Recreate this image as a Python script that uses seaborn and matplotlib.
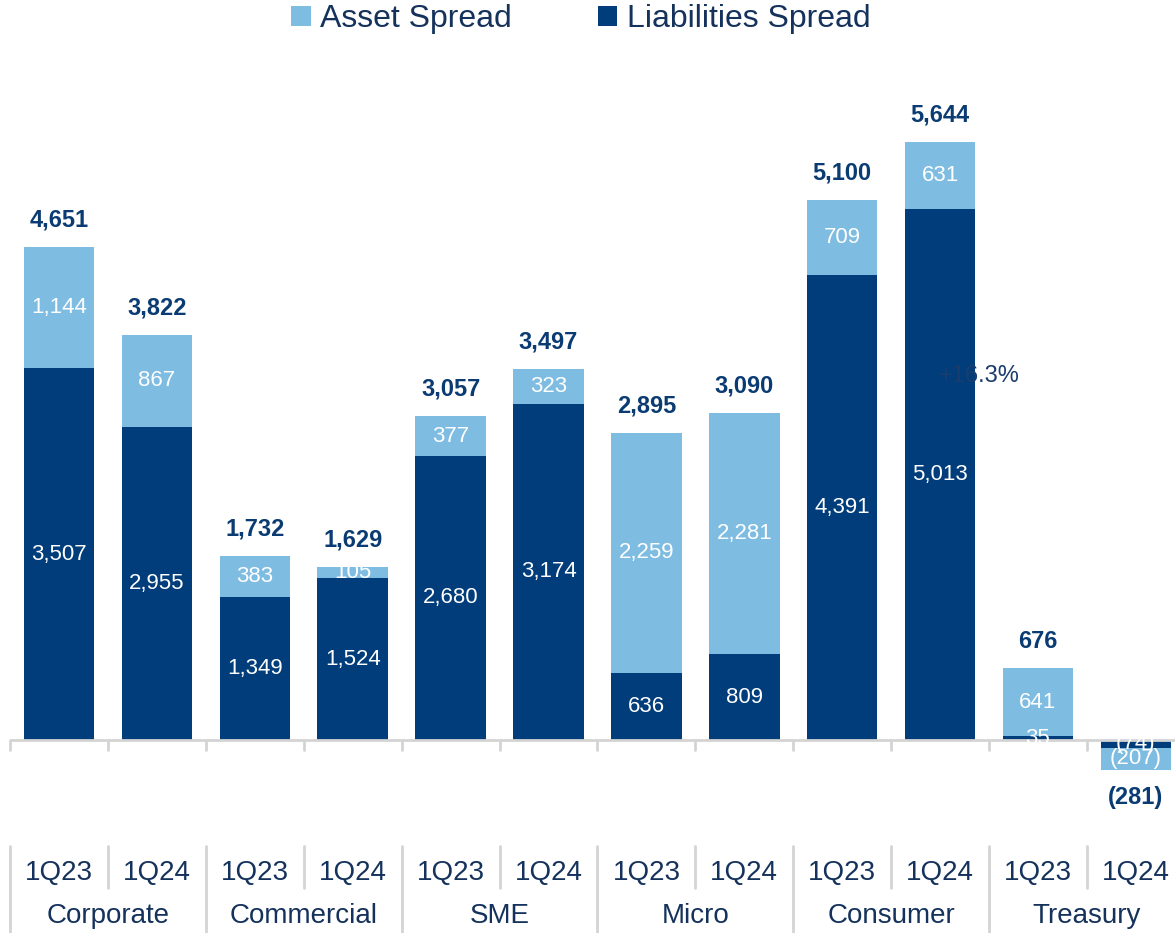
import matplotlib
matplotlib.use("Agg")
import matplotlib.pyplot as plt
from matplotlib.patches import Patch
import seaborn as sns
import pandas as pd

# Spread contribution by segment (IDR bn)
segments = ["Corporate", "Commercial", "SME", "Micro", "Consumer", "Treasury"]
periods = ["1Q23", "1Q24"]
asset_spread = [1144, 867, 383, 105, 377, 323, 2259, 2281, 709, 631, 641, -207]
liabilities_spread = [3507, 2955, 1349, 1524, 2680, 3174, 636, 809, 4391, 5013, 35, -74]
totals = [4651, 3822, 1732, 1629, 3057, 3497, 2895, 3090, 5100, 5644, 676, -281]
growth_note = "+16.3%"

LIGHT = "#7EBCE2"
DARK = "#003D7A"
NAVY = "#0A3B72"
TEXT = "#15325C"
GRID = "#D4D4D4"

sns.set_theme(style="white")
plt.rcParams["font.family"] = ["Liberation Sans", "DejaVu Sans"]

bar_ids = [f"{s} {p}" for s in segments for p in periods]
df = pd.DataFrame({
    "bar": bar_ids,
    "total": totals,
    "liab": liabilities_spread,
    "asset": asset_spread,
})

fig = plt.figure(figsize=(11.75, 9.33), dpi=100)
ax = fig.add_axes([0, 0, 1, 1 - 60 / 933])

# Asset spread sits on top of liabilities: draw full totals, then liabilities over them
sns.barplot(data=df, x="bar", y="total", order=bar_ids, color=LIGHT,
            saturation=1, width=0.72, errorbar=None, linewidth=0,
            edgecolor="none", ax=ax, zorder=2)
sns.barplot(data=df, x="bar", y="liab", order=bar_ids, color=DARK,
            saturation=1, width=0.72, errorbar=None, linewidth=0,
            edgecolor="none", ax=ax, zorder=3)

u = 9.436  # value units per pixel
ax.set_xlim(-0.603, 11.40)
ax.set_ylim(-(933 - 740) * u, (740 - 60) * u)
ax.set_xticks([])
ax.set_yticks([])
ax.set_xlabel("")
ax.set_ylabel("")
for sp in ax.spines.values():
    sp.set_visible(False)


def fmt(v):
    return f"({abs(v):,})" if v < 0 else f"{v:,}"


n = len(bar_ids)
for i in range(n):
    liab = liabilities_spread[i]
    asset = asset_spread[i]
    tot = totals[i]
    ax.text(i, liab / 2, fmt(liab), ha="center", va="center",
            color="white", fontsize=16, zorder=5)
    ax.text(i, liab + asset / 2, fmt(asset), ha="center", va="center",
            color="white", fontsize=16, zorder=5)
    off = 27 * u if tot >= 0 else -28 * u
    ax.text(i, tot + off, fmt(tot), ha="center", va="center",
            color=NAVY, fontsize=17, fontweight="bold", zorder=5)

# Growth annotation running across the consumer bar
ax.text(9.40, (740 - 376) * u, growth_note, ha="center", va="center",
        color="#1A3D6E", fontsize=17, zorder=4)

# Baseline with small ticks at each bar boundary
ax.plot([-0.5, 11.6], [0, 0], color=GRID, lw=2, zorder=4, solid_capstyle="butt")
for k in range(n + 1):
    x = k - 0.5
    ax.plot([x, x], [0, -10 * u], color=GRID, lw=2, zorder=4)
    y_bottom = -(933 - 740) * u if k % 2 == 0 else -(888 - 740) * u
    ax.plot([x, x], [-(846 - 740) * u, y_bottom], color=GRID, lw=2, zorder=4)

# Two-level category labels
for i in range(n):
    ax.text(i, -(873 - 740) * u, periods[i % 2], ha="center", va="center",
            color=TEXT, fontsize=20)
for g, seg in enumerate(segments):
    ax.text(2 * g + 0.5, -(916 - 740) * u, seg, ha="center", va="center",
            color=TEXT, fontsize=20)

handles = [Patch(facecolor=LIGHT, edgecolor="none"),
           Patch(facecolor=DARK, edgecolor="none")]
leg = fig.legend(handles, ["Asset Spread", "Liabilities Spread"], loc="center",
                 bbox_to_anchor=(581 / 1175, 1 - 19 / 933), ncol=2, frameon=False,
                 fontsize=23, handlelength=0.6, handleheight=0.6,
                 handletextpad=0.3, columnspacing=2.7)
for t in leg.get_texts():
    t.set_color(TEXT)

fig.savefig("out.png", dpi=100)
